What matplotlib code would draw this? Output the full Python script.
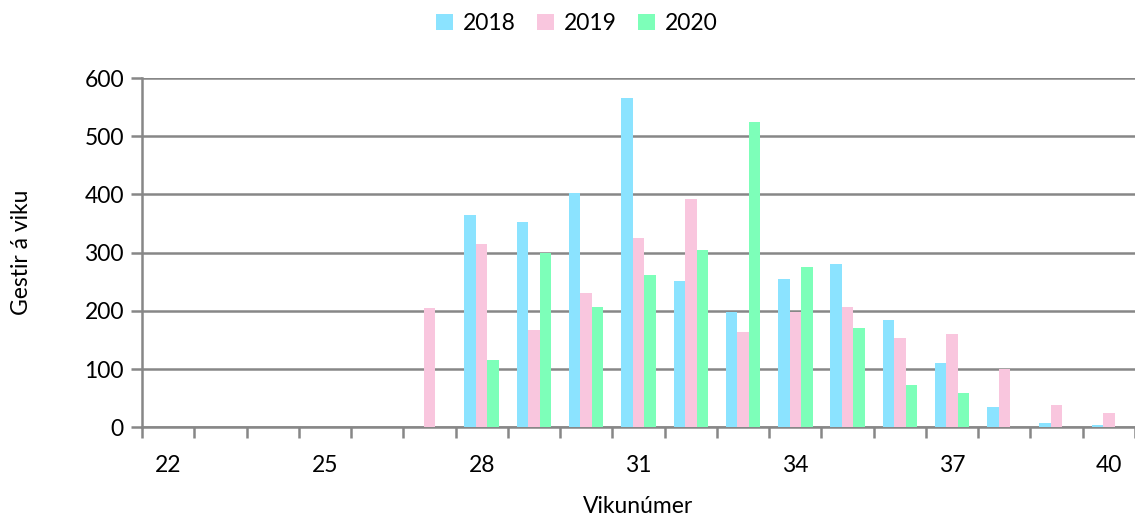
import matplotlib.pyplot as plt
import numpy as np

plt.rcParams['font.family'] = ['Lato', 'DejaVu Sans']

# Gestir á viku, vikur 22-40
vikur = list(range(22, 41))
ar = ['2018', '2019', '2020']
gestir_2018 = [0, 0, 0, 0, 0, 0, 364, 353, 402, 566, 252, 199, 255, 280, 185, 111, 35, 7, 4]
gestir_2019 = [0, 0, 0, 0, 0, 205, 315, 167, 231, 325, 392, 164, 199, 206, 154, 161, 101, 38, 24]
gestir_2020 = [0, 0, 0, 0, 0, 0, 115, 300, 206, 262, 304, 525, 276, 171, 73, 59, 0, 0, 0]
litir = ['#8be3ff', '#f9c6de', '#7dffb9']

grar = '#878787'

fig = plt.figure(figsize=(11.35, 5.15), dpi=100)
ax = fig.add_axes([0.1251, 0.170, 0.8749, 0.6785])

x = np.arange(len(vikur))
b = 0.22
for i, (gildi, lit, nafn) in enumerate(zip([gestir_2018, gestir_2019, gestir_2020], litir, ar)):
    ax.bar(x + (i - 1) * b, gildi, width=b, color=lit, label=nafn, zorder=3)

ax.set_ylim(0, 600)
ax.set_xlim(-0.5, len(vikur) - 0.5 - 0.13)
ax.set_yticks(range(0, 601, 100))
ax.yaxis.grid(True, color=grar, linewidth=1.8, zorder=0)

# merki á mörkum flokka, tölur undir hverri þriðju viku
ax.set_xticks(np.arange(-0.5, len(vikur), 1))
ax.set_xticklabels([])
ax.set_xticks(x[::3], minor=True)
ax.set_xticklabels([str(v) for v in vikur[::3]], minor=True)
ax.tick_params(axis='x', which='major', length=8, width=1.8, color=grar)
ax.tick_params(axis='x', which='minor', length=0, pad=20, labelsize=16.5)
ax.tick_params(axis='y', length=8, width=1.8, color=grar, labelsize=16.5, pad=5)

for s in ['top', 'right']:
    ax.spines[s].set_visible(False)
for s in ['left', 'bottom']:
    ax.spines[s].set_color(grar)
    ax.spines[s].set_linewidth(1.8)

ax.set_xlabel('Vikunúmer', fontsize=16.5, labelpad=14)
ax.set_ylabel('Gestir á viku', fontsize=16.5, labelpad=38)

fig.legend(loc='upper center', bbox_to_anchor=(0.508, 1.015), ncol=3, frameon=False,
           fontsize=16.5, handlelength=0.75, handleheight=0.75, handletextpad=0.4,
           columnspacing=0.95)

fig.savefig('out.png', dpi=100)
